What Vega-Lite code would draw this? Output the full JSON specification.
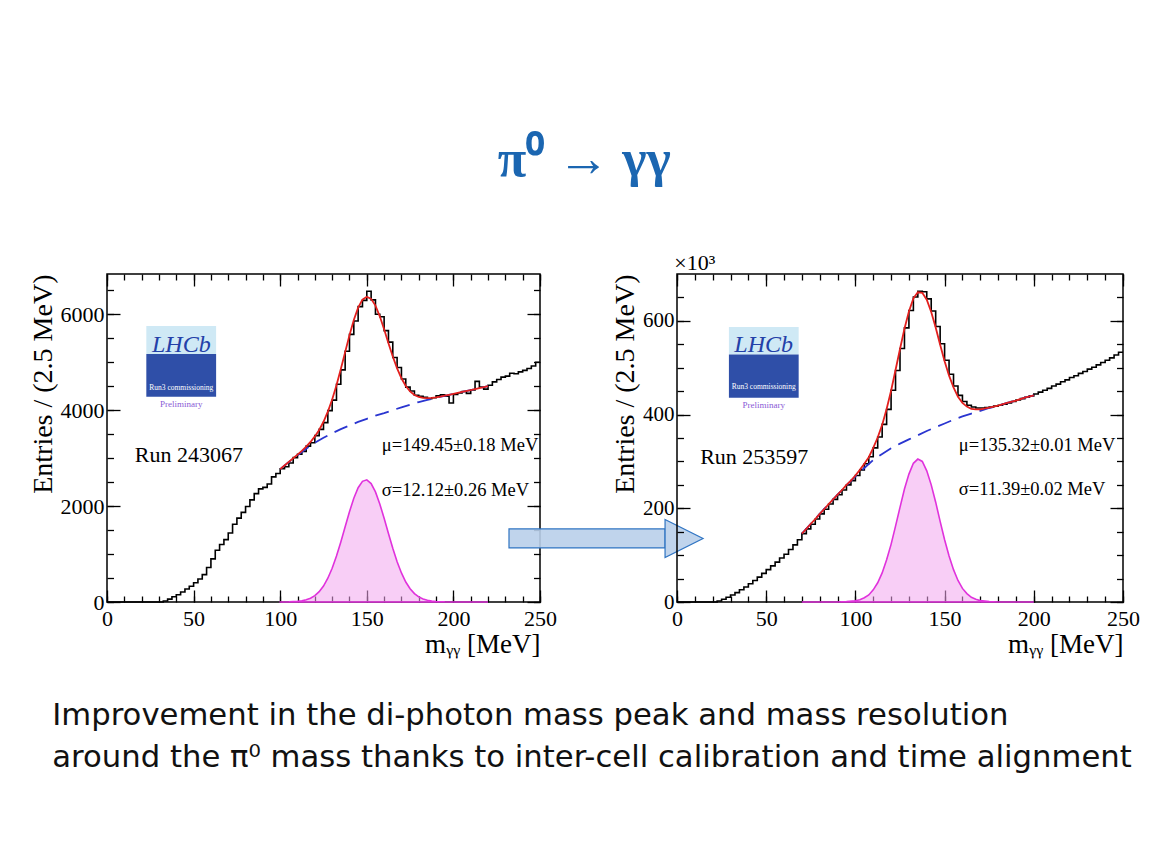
{
  "$schema": "https://vega.github.io/schema/vega-lite/v6.json",
  "background": "white",
  "padding": {"left": 28, "top": 134, "right": 5, "bottom": 5},
  "config": {
    "font": "Liberation Serif",
    "view": {"stroke": "#000", "strokeWidth": 1.5},
    "axis": {"domain": false, "grid": false, "tickColor": "#000", "tickWidth": 1.3, "labelFont": "Liberation Serif", "labelFontSize": 22, "labelColor": "#000", "titleFont": "Liberation Serif", "titleFontWeight": "normal", "titleFontSize": 28, "titleColor": "#000", "labelFlush": false, "labelOverlap": false}
  },
  "title": {"text": ["Improvement in the di-photon mass peak and mass resolution", "around the π⁰ mass thanks to inter-cell calibration and time alignment"], "orient": "bottom", "anchor": "start", "font": "DejaVu Sans", "fontSize": 30.7, "fontWeight": "normal", "lineHeight": 42, "offset": 43, "dx": 24, "color": "#111"},
  "datasets": {
    "histL": [{"m":0,"n":0},{"m":2.5,"n":0},{"m":5,"n":0},{"m":7.5,"n":0},{"m":10,"n":0},{"m":12.5,"n":0},{"m":15,"n":0},{"m":17.5,"n":0},{"m":20,"n":0},{"m":22.5,"n":0},{"m":25,"n":0},{"m":27.5,"n":0},{"m":30,"n":0},{"m":32.5,"n":20},{"m":35,"n":60},{"m":37.5,"n":110},{"m":40,"n":150},{"m":42.5,"n":210},{"m":45,"n":270},{"m":47.5,"n":330},{"m":50,"n":400},{"m":52.5,"n":480},{"m":55,"n":570},{"m":57.5,"n":720},{"m":60,"n":900},{"m":62.5,"n":1080},{"m":65,"n":1200},{"m":67.5,"n":1300},{"m":70,"n":1440},{"m":72.5,"n":1620},{"m":75,"n":1750},{"m":77.5,"n":1870},{"m":80,"n":1990},{"m":82.5,"n":2130},{"m":85,"n":2260},{"m":87.5,"n":2360},{"m":90,"n":2390},{"m":92.5,"n":2460},{"m":95,"n":2610},{"m":97.5,"n":2680},{"m":100,"n":2780},{"m":102.5,"n":2820},{"m":105,"n":2900},{"m":107.5,"n":3010},{"m":110,"n":3080},{"m":112.5,"n":3140},{"m":115,"n":3250},{"m":117.5,"n":3320},{"m":120,"n":3470},{"m":122.5,"n":3600},{"m":125,"n":3740},{"m":127.5,"n":3990},{"m":130,"n":4210},{"m":132.5,"n":4540},{"m":135,"n":4840},{"m":137.5,"n":5230},{"m":140,"n":5580},{"m":142.5,"n":5860},{"m":145,"n":6160},{"m":147.5,"n":6290},{"m":150,"n":6480},{"m":152.5,"n":6300},{"m":155,"n":6000},{"m":157.5,"n":5950},{"m":160,"n":5660},{"m":162.5,"n":5420},{"m":165,"n":5100},{"m":167.5,"n":4890},{"m":170,"n":4650},{"m":172.5,"n":4480},{"m":175,"n":4400},{"m":177.5,"n":4310},{"m":180,"n":4290},{"m":182.5,"n":4270},{"m":185,"n":4240},{"m":187.5,"n":4260},{"m":190,"n":4300},{"m":192.5,"n":4320},{"m":195,"n":4290},{"m":197.5,"n":4150},{"m":200,"n":4330},{"m":202.5,"n":4360},{"m":205,"n":4390},{"m":207.5,"n":4350},{"m":210,"n":4420},{"m":212.5,"n":4600},{"m":215,"n":4480},{"m":217.5,"n":4440},{"m":220,"n":4520},{"m":222.5,"n":4590},{"m":225,"n":4640},{"m":227.5,"n":4690},{"m":230,"n":4710},{"m":232.5,"n":4770},{"m":235,"n":4760},{"m":237.5,"n":4800},{"m":240,"n":4830},{"m":242.5,"n":4870},{"m":245,"n":4920},{"m":247.5,"n":5000},{"m":250,"n":5000}],
    "sigL": [{"m":100,"n":1},{"m":105,"n":3},{"m":110,"n":13},{"m":112.5,"n":24},{"m":115,"n":45},{"m":117.5,"n":79},{"m":120,"n":133},{"m":122.5,"n":215},{"m":125,"n":333},{"m":127.5,"n":495},{"m":130,"n":703},{"m":132.5,"n":959},{"m":135,"n":1252},{"m":137.5,"n":1568},{"m":140,"n":1882},{"m":142.5,"n":2164},{"m":145,"n":2384},{"m":147.5,"n":2517},{"m":150,"n":2547},{"m":152.5,"n":2470},{"m":155,"n":2296},{"m":157.5,"n":2045},{"m":160,"n":1746},{"m":162.5,"n":1428},{"m":165,"n":1120},{"m":167.5,"n":841},{"m":170,"n":606},{"m":172.5,"n":417},{"m":175,"n":276},{"m":177.5,"n":175},{"m":180,"n":106},{"m":182.5,"n":62},{"m":185,"n":35},{"m":187.5,"n":18},{"m":190,"n":9},{"m":195,"n":2},{"m":200,"n":0},{"m":210,"n":0},{"m":220,"n":0}],
    "bkgL": [{"m":100,"n":2770},{"m":105,"n":2920},{"m":110,"n":3060},{"m":115,"n":3195},{"m":120,"n":3320},{"m":125,"n":3425},{"m":130,"n":3520},{"m":135,"n":3605},{"m":140,"n":3680},{"m":145,"n":3755},{"m":150,"n":3820},{"m":155,"n":3885},{"m":160,"n":3940},{"m":165,"n":4000},{"m":170,"n":4060},{"m":175,"n":4115},{"m":180,"n":4170},{"m":185,"n":4215},{"m":190,"n":4260},{"m":195,"n":4300},{"m":200,"n":4340},{"m":205,"n":4380},{"m":210,"n":4420},{"m":215,"n":4460},{"m":220,"n":4500}],
    "totL": [{"m":100,"n":2771},{"m":102.5,"n":2846},{"m":105,"n":2923},{"m":107.5,"n":2997},{"m":110,"n":3073},{"m":112.5,"n":3152},{"m":115,"n":3240},{"m":117.5,"n":3337},{"m":120,"n":3453},{"m":122.5,"n":3587},{"m":125,"n":3758},{"m":127.5,"n":3968},{"m":130,"n":4223},{"m":132.5,"n":4521},{"m":135,"n":4857},{"m":137.5,"n":5211},{"m":140,"n":5562},{"m":142.5,"n":5882},{"m":145,"n":6139},{"m":147.5,"n":6305},{"m":150,"n":6367},{"m":152.5,"n":6322},{"m":155,"n":6181},{"m":157.5,"n":5958},{"m":160,"n":5686},{"m":162.5,"n":5398},{"m":165,"n":5120},{"m":167.5,"n":4871},{"m":170,"n":4666},{"m":172.5,"n":4505},{"m":175,"n":4391},{"m":177.5,"n":4317},{"m":180,"n":4276},{"m":182.5,"n":4255},{"m":185,"n":4250},{"m":187.5,"n":4256},{"m":190,"n":4269},{"m":192.5,"n":4285},{"m":195,"n":4302},{"m":197.5,"n":4321},{"m":200,"n":4340},{"m":205,"n":4380},{"m":210,"n":4420},{"m":215,"n":4460},{"m":220,"n":4500}],
    "histR": [{"m":0,"n":0},{"m":2.5,"n":0},{"m":5,"n":0},{"m":7.5,"n":0},{"m":10,"n":0},{"m":12.5,"n":0},{"m":15,"n":0},{"m":17.5,"n":0},{"m":20,"n":0},{"m":22.5,"n":2},{"m":25,"n":6},{"m":27.5,"n":10},{"m":30,"n":15},{"m":32.5,"n":20},{"m":35,"n":26},{"m":37.5,"n":32},{"m":40,"n":39},{"m":42.5,"n":46},{"m":45,"n":53},{"m":47.5,"n":61},{"m":50,"n":69},{"m":52.5,"n":77},{"m":55,"n":85},{"m":57.5,"n":94},{"m":60,"n":102},{"m":62.5,"n":112},{"m":65,"n":122},{"m":67.5,"n":133},{"m":70,"n":146},{"m":72.5,"n":156},{"m":75,"n":166},{"m":77.5,"n":177},{"m":80,"n":188},{"m":82.5,"n":198},{"m":85,"n":209},{"m":87.5,"n":219},{"m":90,"n":229},{"m":92.5,"n":239},{"m":95,"n":250},{"m":97.5,"n":259},{"m":100,"n":270},{"m":102.5,"n":282},{"m":105,"n":295},{"m":107.5,"n":310},{"m":110,"n":329},{"m":112.5,"n":352},{"m":115,"n":379},{"m":117.5,"n":411},{"m":120,"n":452},{"m":122.5,"n":494},{"m":125,"n":541},{"m":127.5,"n":585},{"m":130,"n":622},{"m":132.5,"n":651},{"m":135,"n":663},{"m":137.5,"n":662},{"m":140,"n":647},{"m":142.5,"n":621},{"m":145,"n":588},{"m":147.5,"n":551},{"m":150,"n":516},{"m":152.5,"n":486},{"m":155,"n":461},{"m":157.5,"n":441},{"m":160,"n":428},{"m":162.5,"n":420},{"m":165,"n":416},{"m":167.5,"n":414},{"m":170,"n":414},{"m":172.5,"n":415},{"m":175,"n":416},{"m":177.5,"n":418},{"m":180,"n":420},{"m":182.5,"n":422},{"m":185,"n":425},{"m":187.5,"n":428},{"m":190,"n":431},{"m":192.5,"n":434},{"m":195,"n":437},{"m":197.5,"n":440},{"m":200,"n":444},{"m":202.5,"n":448},{"m":205,"n":452},{"m":207.5,"n":456},{"m":210,"n":461},{"m":212.5,"n":465},{"m":215,"n":470},{"m":217.5,"n":474},{"m":220,"n":479},{"m":222.5,"n":483},{"m":225,"n":488},{"m":227.5,"n":492},{"m":230,"n":497},{"m":232.5,"n":501},{"m":235,"n":506},{"m":237.5,"n":511},{"m":240,"n":516},{"m":242.5,"n":521},{"m":245,"n":527},{"m":247.5,"n":533},{"m":250,"n":533}],
    "sigR": [{"m":70,"n":0},{"m":80,"n":0},{"m":90,"n":0},{"m":95,"n":1},{"m":100,"n":2.5},{"m":102.5,"n":5},{"m":105,"n":9},{"m":107.5,"n":15},{"m":110,"n":26},{"m":112.5,"n":41},{"m":115,"n":62},{"m":117.5,"n":90},{"m":120,"n":123},{"m":122.5,"n":162},{"m":125,"n":202},{"m":127.5,"n":241},{"m":130,"n":273},{"m":132.5,"n":296},{"m":135,"n":305},{"m":137.5,"n":300},{"m":140,"n":280},{"m":142.5,"n":250},{"m":145,"n":213},{"m":147.5,"n":172},{"m":150,"n":133},{"m":152.5,"n":98},{"m":155,"n":69},{"m":157.5,"n":46},{"m":160,"n":29},{"m":162.5,"n":18},{"m":165,"n":10},{"m":167.5,"n":6},{"m":170,"n":3},{"m":175,"n":1},{"m":180,"n":0},{"m":190,"n":0},{"m":200,"n":0}],
    "bkgR": [{"m":70,"n":146},{"m":75,"n":167},{"m":80,"n":188},{"m":85,"n":209},{"m":90,"n":229},{"m":95,"n":249},{"m":100,"n":268},{"m":105,"n":286},{"m":110,"n":303},{"m":115,"n":316},{"m":120,"n":328},{"m":125,"n":338},{"m":130,"n":347},{"m":135,"n":356},{"m":140,"n":365},{"m":145,"n":373},{"m":150,"n":381},{"m":155,"n":389},{"m":160,"n":396},{"m":165,"n":402},{"m":170,"n":408},{"m":175,"n":414},{"m":180,"n":419},{"m":185,"n":425},{"m":190,"n":430},{"m":195,"n":436},{"m":200,"n":441}],
    "totR": [{"m":70,"n":146},{"m":72.5,"n":156},{"m":75,"n":167},{"m":77.5,"n":177},{"m":80,"n":188},{"m":82.5,"n":198},{"m":85,"n":209},{"m":87.5,"n":219},{"m":90,"n":229},{"m":92.5,"n":239},{"m":95,"n":250},{"m":97.5,"n":259},{"m":100,"n":270},{"m":102.5,"n":282},{"m":105,"n":295},{"m":107.5,"n":309},{"m":110,"n":329},{"m":112.5,"n":351},{"m":115,"n":378},{"m":117.5,"n":412},{"m":120,"n":451},{"m":122.5,"n":495},{"m":125,"n":540},{"m":127.5,"n":583},{"m":130,"n":620},{"m":132.5,"n":648},{"m":135,"n":661},{"m":137.5,"n":660},{"m":140,"n":645},{"m":142.5,"n":619},{"m":145,"n":586},{"m":147.5,"n":549},{"m":150,"n":514},{"m":152.5,"n":483},{"m":155,"n":458},{"m":157.5,"n":438},{"m":160,"n":425},{"m":162.5,"n":417},{"m":165,"n":412},{"m":167.5,"n":411},{"m":170,"n":411},{"m":175,"n":415},{"m":180,"n":419},{"m":185,"n":425},{"m":190,"n":430},{"m":195,"n":436},{"m":200,"n":441}]
  },
  "vconcat": [
    {
      "title": {"text": "π⁰  →  γγ", "orient": "top", "anchor": "middle", "font": "Liberation Serif", "fontSize": 52, "fontWeight": "bold", "color": "#1b66b1", "offset": 64},
      "bounds": "flush",
      "spacing": 137,
      "hconcat": [
        {
          "width": 433, "height": 328,
          "resolve": {"axis": {"x": "independent", "y": "independent"}},
          "layer": [
            {
              "data": {"name": "sigL"},
              "mark": {"type": "area", "fill": "#f2a6ee", "fillOpacity": 0.55, "stroke": "#e032dc", "strokeWidth": 1.6},
              "encoding": {
                "x": {"field": "m", "type": "quantitative", "scale": {"domain": [0, 250], "nice": false, "zero": false}, "axis": {"orient": "bottom", "values": [0, 50, 100, 150, 200, 250], "tickSize": -12, "labelPadding": 18, "title": "mᵧᵧ [MeV]", "titleAnchor": "end", "titlePadding": 2, "titleFontSize": 27, "format": "d"}},
                "y": {"field": "n", "type": "quantitative", "scale": {"domain": [0, 6840], "nice": false}, "axis": {"orient": "left", "values": [0, 2000, 4000, 6000], "tickSize": -13, "labelPadding": 16, "title": "Entries / (2.5 MeV)", "titleAnchor": "end", "titlePadding": 3, "format": "d"}}
              }
            },
            {
              "data": {"name": "histL"},
              "mark": {"type": "line", "interpolate": "step-after", "color": "#000", "strokeWidth": 1.6},
              "encoding": {
                "x": {"field": "m", "type": "quantitative", "scale": {"domain": [0, 250], "nice": false, "zero": false}, "axis": {"orient": "top", "values": [0, 50, 100, 150, 200, 250], "tickSize": -12, "labels": false, "title": null}},
                "y": {"field": "n", "type": "quantitative", "scale": {"domain": [0, 6840], "nice": false}, "axis": {"orient": "right", "values": [0, 2000, 4000, 6000], "tickSize": -13, "labels": false, "title": null}}
              }
            },
            {
              "data": {"name": "bkgL"},
              "mark": {"type": "line", "color": "#2a35d0", "strokeWidth": 1.8, "strokeDash": [14, 8]},
              "encoding": {
                "x": {"field": "m", "type": "quantitative", "scale": {"domain": [0, 250], "nice": false, "zero": false}, "axis": {"orient": "bottom", "values": [0,10,20,30,40,50,60,70,80,90,100,110,120,130,140,150,160,170,180,190,200,210,220,230,240,250], "tickSize": -6, "labels": false, "title": null}},
                "y": {"field": "n", "type": "quantitative", "scale": {"domain": [0, 6840], "nice": false}, "axis": {"orient": "left", "values": [0,500,1000,1500,2000,2500,3000,3500,4000,4500,5000,5500,6000,6500], "tickSize": -6.5, "labels": false, "title": null}}
              }
            },
            {
              "data": {"name": "totL"},
              "mark": {"type": "line", "color": "#e3201e", "strokeWidth": 1.8},
              "encoding": {
                "x": {"field": "m", "type": "quantitative", "scale": {"domain": [0, 250], "nice": false, "zero": false}, "axis": {"orient": "top", "values": [0,10,20,30,40,50,60,70,80,90,100,110,120,130,140,150,160,170,180,190,200,210,220,230,240,250], "tickSize": -6, "labels": false, "title": null}},
                "y": {"field": "n", "type": "quantitative", "scale": {"domain": [0, 6840], "nice": false}, "axis": {"orient": "right", "values": [0,500,1000,1500,2000,2500,3000,3500,4000,4500,5000,5500,6000,6500], "tickSize": -6.5, "labels": false, "title": null}}
              }
            },
            {
              "data": {"values": [{"m1": 22.7, "m2": 63, "top": 5756, "mid": 5171, "bot": 4280}]},
              "layer": [
                {"mark": {"type": "rect", "fill": "#cfe9f5"}, "encoding": {"x": {"field": "m1", "type": "quantitative", "axis": null}, "x2": {"field": "m2"}, "y": {"field": "top", "type": "quantitative", "axis": null}, "y2": {"field": "mid"}}},
                {"mark": {"type": "rect", "fill": "#2f4fa8"}, "encoding": {"x": {"field": "m1", "type": "quantitative", "axis": null}, "x2": {"field": "m2"}, "y": {"field": "mid", "type": "quantitative", "axis": null}, "y2": {"field": "bot"}}}
              ]
            },
            {
              "data": {"values": [{"m": 42.9, "n": 5360, "label": "LHCb"}]},
              "mark": {"type": "text", "font": "Liberation Serif", "fontStyle": "italic", "fontSize": 24, "color": "#2340a8", "align": "center", "baseline": "middle"},
              "encoding": {"x": {"field": "m", "type": "quantitative", "axis": null}, "y": {"field": "n", "type": "quantitative", "axis": null}, "text": {"field": "label"}}
            },
            {
              "data": {"values": [{"m": 42.9, "n": 4470, "label": "Run3 commissioning"}]},
              "mark": {"type": "text", "font": "Liberation Serif", "fontSize": 7.5, "color": "#ffffff", "align": "center", "baseline": "middle"},
              "encoding": {"x": {"field": "m", "type": "quantitative", "axis": null}, "y": {"field": "n", "type": "quantitative", "axis": null}, "text": {"field": "label"}}
            },
            {
              "data": {"values": [{"m": 42.9, "n": 4130, "label": "Preliminary"}]},
              "mark": {"type": "text", "font": "Liberation Serif", "fontSize": 9, "color": "#8a5ad6", "align": "center", "baseline": "middle"},
              "encoding": {"x": {"field": "m", "type": "quantitative", "axis": null}, "y": {"field": "n", "type": "quantitative", "axis": null}, "text": {"field": "label"}}
            },
            {
              "data": {"values": [{"m": 16, "n": 3070, "label": "Run 243067"}]},
              "mark": {"type": "text", "font": "Liberation Serif", "fontSize": 22, "color": "#000", "align": "left", "baseline": "middle"},
              "encoding": {"x": {"field": "m", "type": "quantitative", "axis": null}, "y": {"field": "n", "type": "quantitative", "axis": null}, "text": {"field": "label"}}
            },
            {
              "data": {"values": [{"m": 158.7, "n": 3270, "label": "μ=149.45±0.18 MeV"}, {"m": 158.7, "n": 2346, "label": "σ=12.12±0.26 MeV"}]},
              "mark": {"type": "text", "font": "Liberation Serif", "fontSize": 18.5, "color": "#000", "align": "left", "baseline": "middle"},
              "encoding": {"x": {"field": "m", "type": "quantitative", "axis": null}, "y": {"field": "n", "type": "quantitative", "axis": null}, "text": {"field": "label"}}
            },
            {
              "data": {"values": [{"m1": 232.1, "m2": 322.2, "n1": 1127, "n2": 1524}]},
              "mark": {"type": "rect", "fill": "#b9cfea", "fillOpacity": 0.9, "stroke": "#2f74c2", "strokeWidth": 1.2},
              "encoding": {"x": {"field": "m1", "type": "quantitative", "axis": null}, "x2": {"field": "m2"}, "y": {"field": "n1", "type": "quantitative", "axis": null}, "y2": {"field": "n2"}}
            },
            {
              "data": {"values": [{"m": 322.2, "n": 1325}]},
              "mark": {"type": "point", "shape": "M0,-1L2,0L0,1Z", "size": 1444, "filled": true, "fill": "#b9cfea", "fillOpacity": 0.9, "stroke": "#2f74c2", "strokeWidth": 1.2},
              "encoding": {"x": {"field": "m", "type": "quantitative", "axis": null}, "y": {"field": "n", "type": "quantitative", "axis": null}}
            }
          ]
        },
        {
          "width": 446, "height": 328,
          "resolve": {"axis": {"x": "independent", "y": "independent"}},
          "layer": [
            {
              "data": {"name": "sigR"},
              "mark": {"type": "area", "fill": "#f2a6ee", "fillOpacity": 0.55, "stroke": "#e032dc", "strokeWidth": 1.6},
              "encoding": {
                "x": {"field": "m", "type": "quantitative", "scale": {"domain": [0, 250], "nice": false, "zero": false}, "axis": {"orient": "bottom", "values": [0, 50, 100, 150, 200, 250], "tickSize": -12, "labelPadding": 18, "title": "mᵧᵧ [MeV]", "titleAnchor": "end", "titlePadding": 2, "titleFontSize": 27, "format": "d"}},
                "y": {"field": "n", "type": "quantitative", "scale": {"domain": [0, 700], "nice": false}, "axis": {"orient": "left", "values": [0, 200, 400, 600], "tickSize": -13, "labelPadding": 16, "labelFontSize": 21, "title": "Entries / (2.5 MeV)", "titleAnchor": "end", "titlePadding": 3, "format": "d"}}
              }
            },
            {
              "data": {"name": "histR"},
              "mark": {"type": "line", "interpolate": "step-after", "color": "#000", "strokeWidth": 1.6},
              "encoding": {
                "x": {"field": "m", "type": "quantitative", "scale": {"domain": [0, 250], "nice": false, "zero": false}, "axis": {"orient": "top", "values": [0, 50, 100, 150, 200, 250], "tickSize": -12, "labels": false, "title": null}},
                "y": {"field": "n", "type": "quantitative", "scale": {"domain": [0, 700], "nice": false}, "axis": {"orient": "right", "values": [0, 200, 400, 600], "tickSize": -13, "labels": false, "title": null}}
              }
            },
            {
              "data": {"name": "bkgR"},
              "mark": {"type": "line", "color": "#2a35d0", "strokeWidth": 1.8, "strokeDash": [14, 8]},
              "encoding": {
                "x": {"field": "m", "type": "quantitative", "scale": {"domain": [0, 250], "nice": false, "zero": false}, "axis": {"orient": "bottom", "values": [0,10,20,30,40,50,60,70,80,90,100,110,120,130,140,150,160,170,180,190,200,210,220,230,240,250], "tickSize": -6, "labels": false, "title": null}},
                "y": {"field": "n", "type": "quantitative", "scale": {"domain": [0, 700], "nice": false}, "axis": {"orient": "left", "values": [0,50,100,150,200,250,300,350,400,450,500,550,600,650], "tickSize": -6.5, "labels": false, "title": null}}
              }
            },
            {
              "data": {"name": "totR"},
              "mark": {"type": "line", "color": "#e3201e", "strokeWidth": 1.8},
              "encoding": {
                "x": {"field": "m", "type": "quantitative", "scale": {"domain": [0, 250], "nice": false, "zero": false}, "axis": {"orient": "top", "values": [0,10,20,30,40,50,60,70,80,90,100,110,120,130,140,150,160,170,180,190,200,210,220,230,240,250], "tickSize": -6, "labels": false, "title": null}},
                "y": {"field": "n", "type": "quantitative", "scale": {"domain": [0, 700], "nice": false}, "axis": {"orient": "right", "values": [0,50,100,150,200,250,300,350,400,450,500,550,600,650], "tickSize": -6.5, "labels": false, "title": null}}
              }
            },
            {
              "data": {"values": [{"m1": 29.1, "m2": 68.2, "top": 587, "mid": 528, "bot": 436}]},
              "layer": [
                {"mark": {"type": "rect", "fill": "#cfe9f5"}, "encoding": {"x": {"field": "m1", "type": "quantitative", "axis": null}, "x2": {"field": "m2"}, "y": {"field": "top", "type": "quantitative", "axis": null}, "y2": {"field": "mid"}}},
                {"mark": {"type": "rect", "fill": "#2f4fa8"}, "encoding": {"x": {"field": "m1", "type": "quantitative", "axis": null}, "x2": {"field": "m2"}, "y": {"field": "mid", "type": "quantitative", "axis": null}, "y2": {"field": "bot"}}}
              ]
            },
            {
              "data": {"values": [{"m": 48.6, "n": 548, "label": "LHCb"}]},
              "mark": {"type": "text", "font": "Liberation Serif", "fontStyle": "italic", "fontSize": 24, "color": "#2340a8", "align": "center", "baseline": "middle"},
              "encoding": {"x": {"field": "m", "type": "quantitative", "axis": null}, "y": {"field": "n", "type": "quantitative", "axis": null}, "text": {"field": "label"}}
            },
            {
              "data": {"values": [{"m": 48.6, "n": 458, "label": "Run3 commissioning"}]},
              "mark": {"type": "text", "font": "Liberation Serif", "fontSize": 7.5, "color": "#ffffff", "align": "center", "baseline": "middle"},
              "encoding": {"x": {"field": "m", "type": "quantitative", "axis": null}, "y": {"field": "n", "type": "quantitative", "axis": null}, "text": {"field": "label"}}
            },
            {
              "data": {"values": [{"m": 48.6, "n": 420, "label": "Preliminary"}]},
              "mark": {"type": "text", "font": "Liberation Serif", "fontSize": 9, "color": "#8a5ad6", "align": "center", "baseline": "middle"},
              "encoding": {"x": {"field": "m", "type": "quantitative", "axis": null}, "y": {"field": "n", "type": "quantitative", "axis": null}, "text": {"field": "label"}}
            },
            {
              "data": {"values": [{"m": 13, "n": 310, "label": "Run 253597"}]},
              "mark": {"type": "text", "font": "Liberation Serif", "fontSize": 22, "color": "#000", "align": "left", "baseline": "middle"},
              "encoding": {"x": {"field": "m", "type": "quantitative", "axis": null}, "y": {"field": "n", "type": "quantitative", "axis": null}, "text": {"field": "label"}}
            },
            {
              "data": {"values": [{"m": 158, "n": 335, "label": "μ=135.32±0.01 MeV"}, {"m": 158, "n": 241, "label": "σ=11.39±0.02 MeV"}]},
              "mark": {"type": "text", "font": "Liberation Serif", "fontSize": 18.5, "color": "#000", "align": "left", "baseline": "middle"},
              "encoding": {"x": {"field": "m", "type": "quantitative", "axis": null}, "y": {"field": "n", "type": "quantitative", "axis": null}, "text": {"field": "label"}}
            },
            {
              "data": {"values": [{"m": -1.5, "n": 723, "label": "×10³"}]},
              "mark": {"type": "text", "font": "Liberation Serif", "fontSize": 22, "color": "#000", "align": "left", "baseline": "middle"},
              "encoding": {"x": {"field": "m", "type": "quantitative", "axis": null}, "y": {"field": "n", "type": "quantitative", "axis": null}, "text": {"field": "label"}}
            }
          ]
        }
      ]
    }
  ]
}
